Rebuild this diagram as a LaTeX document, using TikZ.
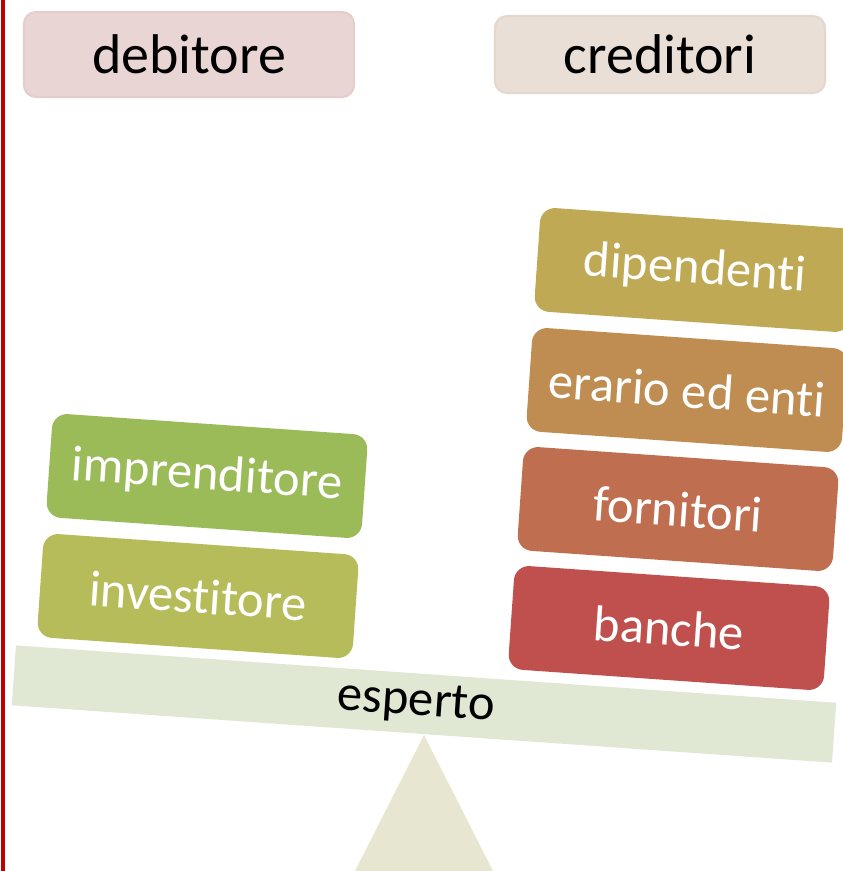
\documentclass[tikz,border=0pt]{standalone}
\usepackage{fontspec}
\setmainfont{Carlito}[RawFeature={-liga}]

\definecolor{linea}{RGB}{192,0,0}
\definecolor{debfondo}{RGB}{234,213,213}
\definecolor{debbordo}{RGB}{229,205,205}
\definecolor{credfondo}{RGB}{233,223,214}
\definecolor{credbordo}{RGB}{228,216,206}
\definecolor{braccio}{RGB}{224,232,212}
\definecolor{supporto}{RGB}{230,230,209}
\definecolor{verde}{RGB}{155,187,89}
\definecolor{oliva}{RGB}{183,188,90}
\definecolor{ocra}{RGB}{191,169,84}
\definecolor{bronzo}{RGB}{191,140,82}
\definecolor{mattone}{RGB}{192,110,80}
\definecolor{rosso}{RGB}{192,80,77}

\begin{document}
\begin{tikzpicture}[x=0.025cm,y=-0.025cm,
    titolo/.style={rounded corners=0.3cm, minimum width=8.25cm, inner sep=0pt,
        line width=1.5pt, font=\fontsize{39.8}{44}\selectfont},
    piatto/.style={rounded corners=0.375cm, minimum width=7.9cm, minimum height=2.6cm,
        inner sep=0pt, rotate=-4, text=white, font=\fontsize{36}{40}\selectfont}]
    \useasboundingbox (0,0) rectangle (843,871);
    \clip (0,0) rectangle (843,871);
    % Linea rossa
    \draw[line width=0.1cm, linea] (3,0) -- (3,871);
    % Titoli
    \node[titolo, fill=debfondo, draw=debbordo, minimum height=2.125cm] (debitore) at (189,54.5) {debitore};
    \node[titolo, fill=credfondo, draw=credbordo, minimum height=1.925cm] (creditori) at (660,54.5) {creditori};
    % Supporto
    \fill[supporto] (424,735) -- (353,875) -- (495,875) -- cycle;
    % Braccio della bilancia
    \node[fill=braccio, minimum width=20.55cm, minimum height=1.5cm, inner sep=0pt, rotate=-4,
        font=\fontsize{36}{40}\selectfont] (esperto) at (424,704) {esperto\hspace*{0.4cm}};
    % Piatto sinistro
    \node[piatto, fill=verde] (imprenditore) at (207,476) {imprenditore};
    \node[piatto, fill=oliva] (investitore) at (198,596) {investitore};
    % Piatto destro
    \node[piatto, fill=ocra] (dipendenti) at (695,270) {dipendenti};
    \node[piatto, fill=bronzo] (erario) at (687,390) {erario ed enti};
    \node[piatto, fill=mattone] (fornitori) at (678,509) {fornitori};
    \node[piatto, fill=rosso] (banche) at (669,628) {banche};
\end{tikzpicture}
\end{document}
